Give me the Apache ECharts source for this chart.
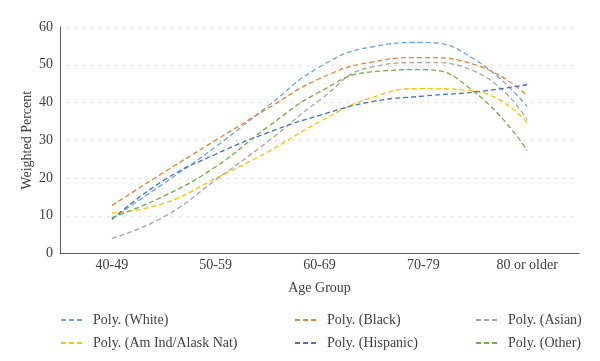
<!DOCTYPE html>
<html>
<head>
<meta charset="utf-8">
<script src="https://cdn.jsdelivr.net/npm/echarts@6/dist/echarts.min.js"></script>
<style>html,body{margin:0;padding:0;background:#fff}#c{width:600px;height:361px}</style>
</head>
<body>
<div id="c"></div>
<script>
var categories = ['40-49', '50-59', '60-69', '70-79', '80 or older'];
// positions along the category axis where the trendlines were read (0 = 40-49 ... 4 = 80 or older)
var samplePos = [0, 0.5, 1, 1.5, 2, 2.5, 3, 3.5, 4];
var white    = [9.3, 18.6, 28.3, 39.0, 49.4, 54.7, 55.9, 51.3, 38.9];
var black    = [12.7, 21.5, 30.0, 38.4, 46.3, 50.7, 51.9, 50.0, 41.9];
var asian    = [4.0, 9.7, 19.5, 29.6, 40.6, 49.4, 50.6, 48.2, 35.5];
var amInd    = [10.7, 13.3, 19.9, 26.9, 34.9, 41.3, 43.7, 43.0, 34.7];
var hispanic = [9.0, 19.4, 26.3, 32.0, 36.6, 40.2, 41.7, 42.8, 44.7];
var other    = [9.5, 15.2, 23.0, 33.5, 42.8, 48.1, 48.7, 42.6, 27.3];
var yTicks = [0, 10, 20, 30, 40, 50, 60];

var seriesDefs = [
  {name: 'Poly. (White)', data: white, color: '#6FA3DC'},
  {name: 'Poly. (Black)', data: black, color: '#ED7D31'},
  {name: 'Poly. (Asian)', data: asian, color: '#A5A5A5'},
  {name: 'Poly. (Am Ind/Alask Nat)', data: amInd, color: '#FFC000'},
  {name: 'Poly. (Hispanic)', data: hispanic, color: '#4472C4'},
  {name: 'Poly. (Other)', data: other, color: '#70AD47'}
];
var FONT = '"Liberation Serif", "DejaVu Serif", serif';
var legendPos = [[60, 313], [294, 313], [475, 313], [60, 336], [294, 336], [475, 336]];

var chart = echarts.init(document.getElementById('c'), null, {renderer: 'canvas'});
chart.setOption({
  animation: false,
  backgroundColor: '#fff',
  grid: {left: 60, right: 21, top: 27, bottom: 107.5},
  legend: seriesDefs.map(function (s, i) {
    return {
      data: [s.name], left: legendPos[i][0], top: legendPos[i][1], padding: 0,
      itemWidth: 23, itemHeight: 14, itemGap: 5,
      itemStyle: {opacity: 0},
      textStyle: {fontFamily: FONT, fontSize: 14, color: '#404040', padding: [0, 0, 0, 4]}
    };
  }),
  xAxis: [{
    type: 'category', data: categories, boundaryGap: true,
    axisLine: {lineStyle: {color: '#595959', width: 1}},
    axisTick: {show: false},
    axisLabel: {fontFamily: FONT, fontSize: 14, color: '#404040', margin: 5},
    name: 'Age Group', nameLocation: 'middle', nameGap: 28, nameMoveOverlap: false,
    nameTextStyle: {fontFamily: FONT, fontSize: 14, color: '#404040'}
  }, {
    type: 'value', min: -0.5, max: 4.5, show: false
  }],
  yAxis: {
    type: 'value', min: yTicks[0], max: yTicks[yTicks.length - 1], interval: 10,
    axisLine: {show: true, onZero: false, lineStyle: {color: '#595959', width: 1}},
    axisTick: {show: false},
    axisLabel: {fontFamily: FONT, fontSize: 14, color: '#404040', margin: 7},
    splitLine: {lineStyle: {color: '#BFBFBF', type: [1, 7], width: 1}},
    name: 'Weighted Percent', nameLocation: 'middle', nameGap: 26, nameMoveOverlap: false,
    nameTextStyle: {fontFamily: FONT, fontSize: 14, color: '#404040'}
  },
  series: seriesDefs.map(function (s) {
    return {
      name: s.name, type: 'line', xAxisIndex: 1, smooth: 0.5,
      showSymbol: false, symbol: 'none',
      data: s.data.map(function (v, i) { return [samplePos[i], v]; }),
      lineStyle: {color: s.color, width: 1.3, type: [5, 3]},
      itemStyle: {color: s.color}
    };
  })
});
</script>
</body>
</html>
